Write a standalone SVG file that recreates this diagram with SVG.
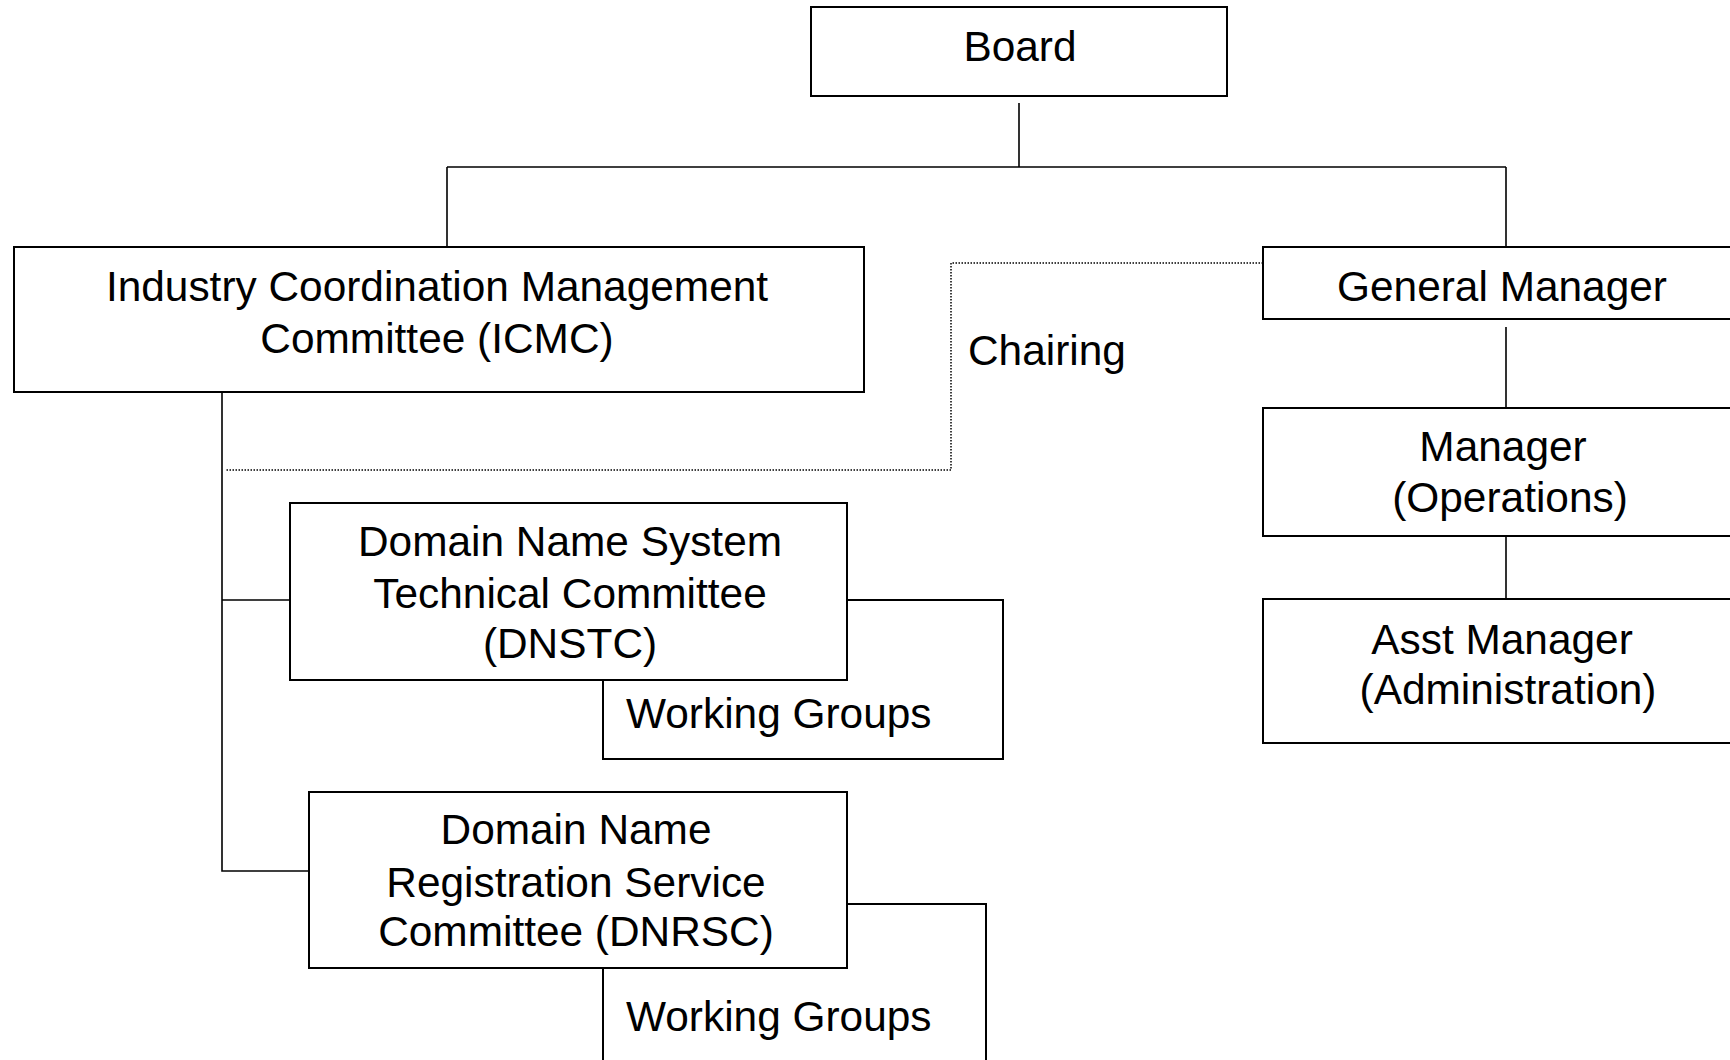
<svg xmlns="http://www.w3.org/2000/svg" width="1730" height="1060" viewBox="0 0 1730 1060">
<style>
.box{fill:#fff;stroke:#000;stroke-width:2}
.ln{fill:none;stroke:#000;stroke-width:1.6}
.dot{fill:none;stroke:#000;stroke-width:1.5;stroke-dasharray:1.5 1.5}
text{font-family:"Liberation Sans",Arial,sans-serif;font-size:42.4px;fill:#000}
.c{text-anchor:middle}
</style>
<rect width="1730" height="1060" fill="#fff"/>
<g id="connectors">
<path class="ln" d="M1019 103V167M447 167H1506M447 167V247M1506 167V247"/>
<path class="ln" d="M1506 327V408M1506 536V599"/>
<path class="ln" d="M222 392V871H309M222 600H290"/>
<path class="dot" d="M1263 263H951V470H226"/>
<text x="968" y="365">Chairing</text>
</g>
<g id="board"><rect class="box" x="811" y="7" width="416" height="89"/><text class="c" x="1020" y="61">Board</text></g>
<g id="icmc"><rect class="box" x="14" y="247" width="850" height="145"/><text class="c" x="437" y="301">Industry Coordination Management</text><text class="c" x="437" y="353">Committee (ICMC)</text></g>
<g id="gm"><rect class="box" x="1263" y="247" width="500" height="72"/><text class="c" x="1502" y="301">General Manager</text></g>
<g id="manager"><rect class="box" x="1263" y="408" width="500" height="128"/><text class="c" x="1503" y="461">Manager</text><text class="c" x="1510" y="512">(Operations)</text></g>
<g id="asst"><rect class="box" x="1263" y="599" width="500" height="144"/><text class="c" x="1502" y="654">Asst Manager</text><text class="c" x="1508" y="704">(Administration)</text></g>
<g id="wg1"><rect class="box" x="603" y="600" width="400" height="159"/><text x="626" y="728">Working Groups</text></g>
<g id="dnstc"><rect class="box" x="290" y="503" width="557" height="177"/><text class="c" x="570" y="556">Domain Name System</text><text class="c" x="570" y="608">Technical Committee</text><text class="c" x="570" y="658">(DNSTC)</text></g>
<g id="wg2"><rect class="box" x="603" y="904" width="383" height="200"/><text x="626" y="1031">Working Groups</text></g>
<g id="dnrsc"><rect class="box" x="309" y="792" width="538" height="176"/><text class="c" x="576" y="844">Domain Name</text><text class="c" x="576" y="897">Registration Service</text><text class="c" x="576" y="946">Committee (DNRSC)</text></g>
</svg>
